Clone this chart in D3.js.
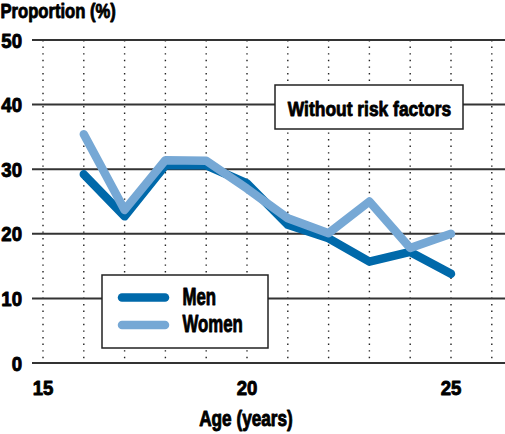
<!DOCTYPE html>
<html><head><meta charset="utf-8">
<script src="https://cdn.jsdelivr.net/npm/d3@7/dist/d3.min.js"></script>
<style>
body{margin:0;background:#fff;}
text{font-family:"Liberation Sans",Arial,sans-serif;font-weight:bold;fill:#000;stroke:#000;stroke-width:0.9;stroke-linejoin:round;}
</style></head><body>
<svg id="c" width="505" height="434"></svg>
<script>
const ages = [16,17,18,19,20,21,22,23,24,25];
const men = [29.2,22.7,30.6,30.6,27.8,21.4,19.3,15.7,17.2,13.8];
const women = [35.4,23.7,31.4,31.3,27.0,22.4,20.1,25.0,17.8,20.0];
const xTicks = [15,20,25];
const yTicks = [0,10,20,30,40,50];
const gridX = [15,16,17,18,19,20,21,22,23,24,25,26];
const seriesNames = ["Men","Women"];

const svg = d3.select("#c");
const x = d3.scaleLinear().domain([15,25]).range([43,451]);
const y = d3.scaleLinear().domain([0,50]).range([363,40]);

function txt(g, tx, ty, s, size, sx, anchor){
  return g.append("text")
    .attr("transform",`translate(${tx},${ty}) scale(${sx},1)`)
    .attr("text-anchor",anchor||"start").attr("font-size",size).text(s);
}

// vertical dotted grid
svg.append("g").selectAll("line").data(gridX).join("line")
  .attr("x1",d=>x(d)).attr("x2",d=>x(d)).attr("y1",y(50)).attr("y2",y(0))
  .attr("stroke","#222").attr("stroke-width",1.4).attr("stroke-dasharray","1.4,5.2");
// horizontal grid
svg.append("g").selectAll("line").data(yTicks).join("line")
  .attr("x1",32).attr("x2",505).attr("y1",d=>y(d)).attr("y2",d=>y(d))
  .attr("stroke","#333").attr("stroke-width",2);

const yl = svg.append("g");
yTicks.forEach(d=>txt(yl,22,y(d)+7.5,d,20,0.93,"end"));
const xl = svg.append("g");
xTicks.forEach(d=>txt(xl,x(d),395,d,20,0.93,"middle"));

txt(svg,0.5,17.5,"Proportion (%)",20.5,0.81,"start");
txt(svg,246,426,"Age (years)",21.5,0.8,"middle");

const line = d3.line().x((d,i)=>x(ages[i])).y(d=>y(d));
const colors = {Men:"#0069aa",Women:"#76a8d5"};
svg.append("path").datum(men).attr("d",line).attr("fill","none")
  .attr("stroke",colors.Men).attr("stroke-width",8.5).attr("stroke-linejoin","round").attr("stroke-linecap","round");
svg.append("path").datum(women).attr("d",line).attr("fill","none")
  .attr("stroke",colors.Women).attr("stroke-width",8.5).attr("stroke-linejoin","round").attr("stroke-linecap","round");

// annotation box
svg.append("rect").attr("x",275).attr("y",85).attr("width",188).attr("height",44)
  .attr("fill","#fff").attr("stroke","#222").attr("stroke-width",1.5);
txt(svg,369.5,116,"Without risk factors",21,0.83,"middle");

// legend
const lg = svg.append("g");
lg.append("rect").attr("x",102).attr("y",275).attr("width",166).attr("height",73)
  .attr("fill","#fff").attr("stroke","#222").attr("stroke-width",1.5);
seriesNames.forEach((n,i)=>{
  const yy = 297.5 + i*27.5;
  lg.append("line").attr("x1",122).attr("x2",165).attr("y1",yy).attr("y2",yy)
    .attr("stroke",colors[n]).attr("stroke-width",8.5).attr("stroke-linecap","round");
  txt(lg,182.5,yy+7,n,23,0.73,"start");
});
</script></body></html>
